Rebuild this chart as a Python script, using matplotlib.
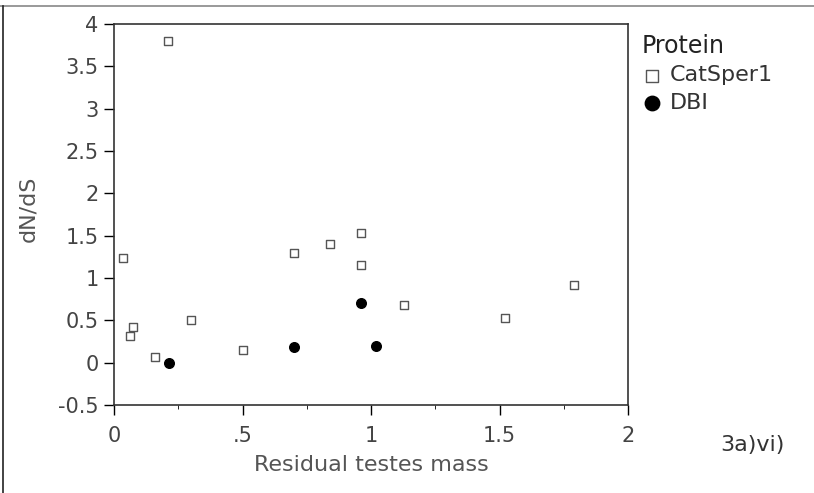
import matplotlib.pyplot as plt
from matplotlib.lines import Line2D

catsper_x = [0.21, 0.035, 0.70, 0.84, 0.96, 0.96, 1.13, 0.075, 0.062, 0.30, 0.16, 0.50, 1.52, 1.79]
catsper_y = [3.80, 1.24, 1.29, 1.40, 1.53, 1.15, 0.68, 0.42, 0.32, 0.50, 0.07, 0.15, 0.53, 0.92]
dbi_x = [0.215, 0.70, 0.96, 1.02]
dbi_y = [0.0, 0.19, 0.71, 0.20]

xticks = [0, 0.5, 1, 1.5, 2]
xtick_labels = ["0", ".5", "1", "1.5", "2"]
yticks = [-0.5, 0, 0.5, 1, 1.5, 2, 2.5, 3, 3.5, 4]
ytick_labels = ["-0.5", "0", "0.5", "1", "1.5", "2", "2.5", "3", "3.5", "4"]

plt.rcParams['font.family'] = ['DejaVu Sans']

fig = plt.figure(figsize=(8.14, 4.93), dpi=100)
ax = fig.add_axes([114 / 814, 1 - 405 / 493, (628 - 114) / 814, (405 - 24) / 493])

ax.scatter(catsper_x, catsper_y, marker='s', s=30, facecolors='white',
           edgecolors='#555555', linewidths=1.0, label="CatSper1", zorder=3)
ax.scatter(dbi_x, dbi_y, marker='o', s=48, color='black', label="DBI", zorder=3)

ax.set_xlim(0, 2)
ax.set_ylim(-0.5, 4)
ax.set_xticks(xticks)
ax.set_xticklabels(xtick_labels)
ax.set_xticks([0.25, 0.75, 1.25, 1.75], minor=True)
ax.set_yticks(yticks)
ax.set_yticklabels(ytick_labels)
ax.tick_params(axis='both', which='major', direction='out', length=7, width=1,
               labelsize=15, labelcolor='#444444')
ax.tick_params(axis='x', which='major', pad=8)
ax.tick_params(axis='y', which='major', pad=4)
ax.tick_params(axis='x', which='minor', direction='out', length=3)
for sp in ax.spines.values():
    sp.set_color('#333333')
    sp.set_linewidth(1.2)

ax.set_xlabel("Residual testes mass", fontsize=16, color='#555555')
ax.set_ylabel("dN/dS", fontsize=16, color='#555555')
ax.xaxis.set_label_coords(0.5, -(455 - 405) / 381)
ax.yaxis.set_label_coords((38 - 114) / 514, (405 - 209) / 381)

leg = ax.legend(title="Protein", loc='upper left', bbox_to_anchor=(1.01, 0.998),
                frameon=False, fontsize=16, title_fontsize=17,
                handletextpad=0.35, borderaxespad=0, labelspacing=0.35,
                handlelength=0.9, markerscale=1.5)
leg._legend_box.align = "left"
for t in leg.get_texts():
    t.set_color('#333333')
leg.get_title().set_color('#222222')

fig.text(720 / 814, 1 - 445 / 493, "3a)vi)", fontsize=16, color='#333333',
         va='center')

# scan frame lines
fig.add_artist(Line2D([0, 1], [1 - 6 / 493, 1 - 6 / 493], color='#888888', lw=1.2))
fig.add_artist(Line2D([3 / 814, 3 / 814], [0, 1 - 6 / 493], color='#222222', lw=1.2))

fig.savefig("out.png", dpi=100)
